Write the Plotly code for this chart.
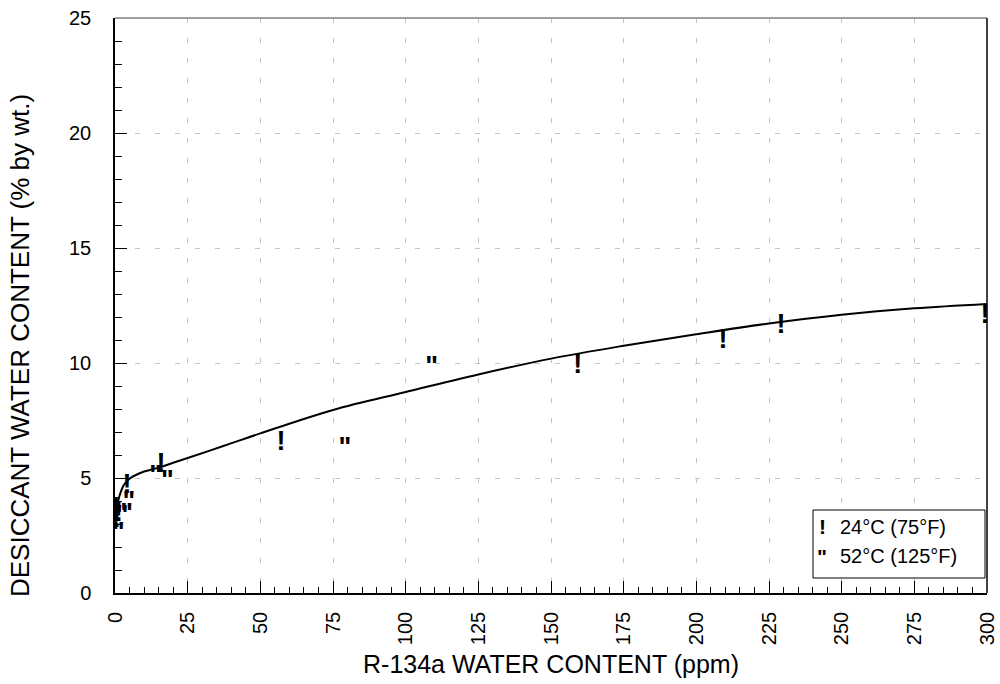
import plotly.graph_objects as go

# Fitted curve
curve_x = [0.3, 0.6, 1, 1.5, 2, 3, 4, 5, 7, 10, 15, 20, 25, 37.5, 50, 75, 100,
           125, 150, 175, 200, 225, 250, 275, 300]
curve_y = [3.1, 3.6, 3.95, 4.2, 4.4, 4.68, 4.85, 4.97, 5.12, 5.28, 5.45, 5.66,
           5.87, 6.4, 6.94, 7.96, 8.74, 9.5, 10.19, 10.75, 11.25, 11.72, 12.1,
           12.38, 12.57]

# 24°C (75°F) data, drawn with "!"
t24_x = [0.3, 0.5, 1.2, 4.1, 15.8, 57.1, 159.2, 209.2, 229.1, 299.3]
t24_y = [3.62, 3.17, 3.42, 4.62, 5.57, 6.52, 9.87, 10.94, 11.59, 12.02]

# 52°C (125°F) data, drawn with '"'
t52_x = [1.2, 2.5, 4.0, 4.8, 14.0, 18.0, 79.1, 108.9]
t52_y = [2.55, 3.30, 3.40, 3.90, 5.05, 4.80, 6.25, 9.77]

x_ticks = [0, 25, 50, 75, 100, 125, 150, 175, 200, 225, 250, 275, 300]
y_ticks = [0, 5, 10, 15, 20, 25]

FONT = "Liberation Sans, Arial, sans-serif"
L, R, T, B = 115, 13, 18, 91
W, H = 1000, 684
PW, PH = W - L - R, H - T - B


def px(xp):
    return (xp - L) / PW


def py(yp):
    return (H - B - yp) / PH


fig = go.Figure()
fig.add_trace(go.Scatter(x=curve_x, y=curve_y, mode="lines",
                         line=dict(color="black", width=2, shape="spline"),
                         showlegend=False, hoverinfo="skip"))
fig.add_trace(go.Scatter(x=t24_x, y=t24_y, mode="text", text=["!"] * len(t24_x),
                         textposition="middle center", cliponaxis=False,
                         textfont=dict(family=FONT, size=27, color="black",
                                       weight="bold"),
                         name="24°C (75°F)", showlegend=False))
fig.add_trace(go.Scatter(x=t52_x, y=t52_y, mode="text", text=['"'] * len(t52_x),
                         textposition="middle center", cliponaxis=False,
                         textfont=dict(family=FONT, size=27, color="black",
                                       weight="bold"),
                         name="52°C (125°F)", showlegend=False))

grid = dict(showgrid=True, gridcolor="#c4c4c4", gridwidth=1, griddash="5px,15px")

fig.update_xaxes(range=[0, 300], tickmode="array", tickvals=x_ticks,
                 ticktext=[str(v) for v in x_ticks], tickangle=-90,
                 ticks="inside", ticklen=12, tickcolor="black", tickwidth=1,
                 showline=True, linecolor="black", linewidth=1.5,
                 zeroline=False, ticklabelstandoff=9, automargin=False,
                 tickfont=dict(family=FONT, size=20, color="black"),
                 minor=dict(dtick=5, ticks="inside", ticklen=6, tickcolor="black",
                            showgrid=False),
                 **grid)
fig.update_yaxes(range=[0, 25], tickmode="array", tickvals=y_ticks,
                 ticktext=[str(v) for v in y_ticks],
                 ticks="inside", ticklen=12, tickcolor="black", tickwidth=1,
                 showline=True, linecolor="black", linewidth=1.5,
                 zeroline=False, ticklabelstandoff=18, automargin=False,
                 tickfont=dict(family=FONT, size=20, color="black"),
                 minor=dict(dtick=1, ticks="inside", ticklen=7, tickcolor="black",
                            showgrid=False),
                 **grid)

shapes = [
    dict(type="line", xref="paper", yref="paper", x0=0, x1=1, y0=1, y1=1,
         line=dict(color="#808080", width=1.5)),
    dict(type="line", xref="paper", yref="paper", x0=1, x1=1, y0=0, y1=1,
         line=dict(color="black", width=1.5)),
    dict(type="rect", xref="paper", yref="paper", x0=px(813), x1=px(985),
         y0=py(578), y1=py(510), line=dict(color="black", width=1),
         fillcolor="white"),
]

annotations = [
    dict(text="R-134a WATER CONTENT (ppm)", xref="paper", yref="paper",
         x=px(551), y=py(664), xanchor="center", yanchor="middle",
         showarrow=False, font=dict(family=FONT, size=25, color="black")),
    dict(text="DESICCANT WATER CONTENT (% by wt.)", xref="paper", yref="paper",
         x=px(20), y=py(346), xanchor="center", yanchor="middle", textangle=-90,
         showarrow=False, font=dict(family=FONT, size=26, color="black")),
    dict(text="!", xref="paper", yref="paper", x=px(822), y=py(526),
         xanchor="center", yanchor="middle", showarrow=False,
         font=dict(family=FONT, size=21, color="black", weight="bold")),
    dict(text="24°C (75°F)", xref="paper", yref="paper", x=px(838), y=py(527),
         xanchor="left", yanchor="middle", showarrow=False,
         font=dict(family=FONT, size=20, color="black")),
    dict(text='"', xref="paper", yref="paper", x=px(822), y=py(556),
         xanchor="center", yanchor="middle", showarrow=False,
         font=dict(family=FONT, size=21, color="black", weight="bold")),
    dict(text="52°C (125°F)", xref="paper", yref="paper", x=px(838), y=py(556),
         xanchor="left", yanchor="middle", showarrow=False,
         font=dict(family=FONT, size=20, color="black")),
]

fig.update_layout(width=W, height=H, margin=dict(l=L, r=R, t=T, b=B),
                  paper_bgcolor="white", plot_bgcolor="white",
                  shapes=shapes, annotations=annotations, showlegend=False,
                  font=dict(family=FONT, color="black"))

fig.write_html("out.html")
